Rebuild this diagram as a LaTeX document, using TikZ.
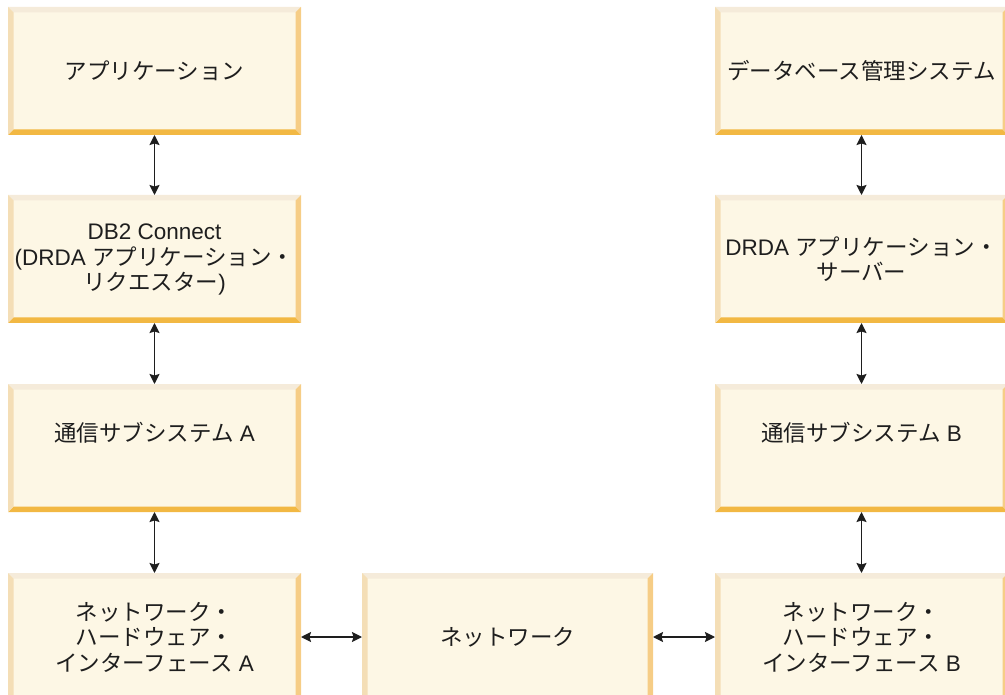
\documentclass[tikz,border=0pt]{standalone}
\usepackage{fontspec}
\setmainfont{Liberation Sans}
\newfontfamily\cjk{Noto Sans CJK JP}
\usetikzlibrary{arrows.meta,calc}
\definecolor{boxfill}{HTML}{FDF7E5}
\definecolor{bevtop}{HTML}{F5EBDA}
\definecolor{bevleft}{HTML}{F4DEB6}
\definecolor{bevright}{HTML}{F6CD86}
\definecolor{bevbot}{HTML}{F2B843}
\definecolor{txtcol}{HTML}{1E1E1E}
\newcommand\J[1]{{\cjk #1}}
\tikzset{
  bevelbox/.style={minimum width=#1, minimum height=128pt, inner sep=0pt, outer sep=0pt, fill=boxfill,
    path picture={
      \coordinate (NW) at (path picture bounding box.north west);
      \coordinate (NE) at (path picture bounding box.north east);
      \coordinate (SW) at (path picture bounding box.south west);
      \coordinate (SE) at (path picture bounding box.south east);
      \fill[bevtop] (NW) -- (NE) -- ([xshift=-5.5pt,yshift=-5.5pt]NE) -- ([xshift=5.5pt,yshift=-5.5pt]NW) -- cycle;
      \fill[bevbot] (SW) -- (SE) -- ([xshift=-5.5pt,yshift=5.5pt]SE) -- ([xshift=5.5pt,yshift=5.5pt]SW) -- cycle;
      \fill[bevleft] (NW) -- (SW) -- ([xshift=5.5pt,yshift=5.5pt]SW) -- ([xshift=5.5pt,yshift=-5.5pt]NW) -- cycle;
      \fill[bevright] (NE) -- (SE) -- ([xshift=-5.5pt,yshift=5.5pt]SE) -- ([xshift=-5.5pt,yshift=-5.5pt]NE) -- cycle;
    }},
  bevelbox/.default=293pt,
  txt/.style={align=center, text=txtcol, font=\fontsize{22.5}{25.5}\selectfont, inner sep=0pt},
  link/.style={line width=1.5pt, draw=txtcol, {Stealth[length=10pt,width=10pt,inset=1.5pt]}-{Stealth[length=10pt,width=10pt,inset=1.5pt]}}
}
\begin{document}
\begin{tikzpicture}[x=1pt,y=-1pt]
\useasboundingbox (0,0) rectangle (1005,695);
\clip (0,0) rectangle (1005,695);
% left column
\node[bevelbox] (a1) at (154.5,71) {};
\node[bevelbox] (a2) at (154.5,259) {};
\node[bevelbox] (a3) at (154.5,448) {};
\node[bevelbox] (a4) at (154.5,637) {};
% middle
\node[bevelbox=291pt] (n) at (507.5,637) {};
% right column
\node[bevelbox] (b1) at (861.5,71) {};
\node[bevelbox] (b2) at (861.5,259) {};
\node[bevelbox] (b3) at (861.5,448) {};
\node[bevelbox] (b4) at (861.5,637) {};
% texts
\node[txt] (ta1) at (a1.center) {\J{アプリケーション}};
\node[txt] (ta2) at ([yshift=-0.5pt]a2.center) {DB2 Connect\\(DRDA \J{アプリケーション・}\\\J{リクエスター})};
\node[txt] (ta3) at ([yshift=15pt]a3.center) {\J{通信サブシステム} A};
\node[txt] (ta4) at (a4.center) {\J{ネットワーク・}\\\J{ハードウェア・}\\\J{インターフェース} A};
\node[txt] (tn) at (n.center) {\J{ネットワーク}};
\node[txt] (tb1) at (b1.center) {\J{データベース管理システム}};
\node[txt] (tb2) at (b2.center) {DRDA \J{アプリケーション・}\\\J{サーバー}};
\node[txt] (tb3) at ([yshift=15pt]b3.center) {\J{通信サブシステム} B};
\node[txt] (tb4) at (b4.center) {\J{ネットワーク・}\\\J{ハードウェア・}\\\J{インターフェース} B};
% connectors
\draw[link] (a1.south) -- (a2.north);
\draw[link] (a2.south) -- (a3.north);
\draw[link] (a3.south) -- (a4.north);
\draw[link] (b1.south) -- (b2.north);
\draw[link] (b2.south) -- (b3.north);
\draw[link] (b3.south) -- (b4.north);
\draw[link] (a4.east) -- (n.west);
\draw[link] (n.east) -- (b4.west);
\end{tikzpicture}
\end{document}
